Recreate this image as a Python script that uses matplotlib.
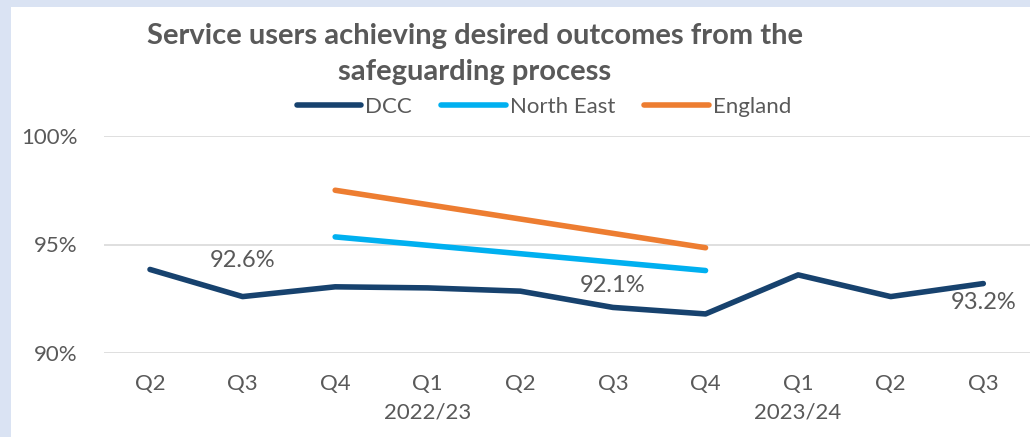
import matplotlib
matplotlib.use("Agg")
import matplotlib.pyplot as plt
from matplotlib.patches import Rectangle
import numpy as np

quarters = ["Q2", "Q3", "Q4", "Q1", "Q2", "Q3", "Q4", "Q1", "Q2", "Q3"]
years = {3: "2022/23", 7: "2023/24"}
dcc = [93.85, 92.6, 93.05, 93.0, 92.85, 92.1, 91.8, 93.6, 92.6, 93.2]
ne_idx = [2, 6]
north_east = [95.35, 93.8]
eng_idx = [2, 6]
england = [97.5, 94.85]
labels = {1: "92.6%", 5: "92.1%", 9: "93.2%"}

plt.rcParams['font.family'] = ['Lato', 'DejaVu Sans']
txt = '#595959'

fig = plt.figure(figsize=(10.30, 4.37), dpi=100)
fig.patch.set_facecolor('#DAE3F3')
fig.add_artist(Rectangle((11/1030, 0), 1, 1 - 7/437, transform=fig.transFigure,
                         facecolor='white', edgecolor='none', zorder=0))

ax = fig.add_axes([103.7/1030, 1 - 353/437, (1029.6 - 103.7)/1030, (353 - 136)/437])
ax.set_facecolor('none')
x = np.arange(len(quarters))
lw = 4.0
l1, = ax.plot(x, dcc, color='#17426E', lw=lw, solid_capstyle='round', solid_joinstyle='round', label='DCC', zorder=3)
l2, = ax.plot(ne_idx, north_east, color='#00B0F0', lw=lw, solid_capstyle='round', label='North East', zorder=3)
l3, = ax.plot(eng_idx, england, color='#ED7D31', lw=lw, solid_capstyle='round', label='England', zorder=3)

ax.set_xlim(-0.5, len(quarters) - 0.5)
ax.set_ylim(90, 100)
ax.set_yticks([90, 95, 100])
ax.set_yticklabels(["90%", "95%", "100%"])
ax.grid(axis='y', color='#D9D9D9', lw=1.2)
ax.set_axisbelow(True)
for s in ax.spines.values():
    s.set_visible(False)
ax.tick_params(length=0, labelsize=16, labelcolor=txt)
ax.tick_params(axis='y', pad=19)
ax.set_xticks(x)
ax.set_xticklabels(quarters)
ax.tick_params(axis='x', pad=15)
for i, y in years.items():
    ax.annotate(y, xy=(i, 0), xycoords=('data', 'axes fraction'), xytext=(0, -43),
                textcoords='offset points', ha='center', va='center', fontsize=16, color=txt)

offsets = {1: 26, 5: 16, 9: -13.5}
for i, s in labels.items():
    ax.annotate(s, xy=(i, dcc[i]), xytext=(0, offsets[i]), textcoords='offset points',
                ha='center', va='center', fontsize=17, color=txt)

fig.text(475/1030, 1 - 36/437, "Service users achieving desired outcomes from the",
         ha='center', va='center', fontsize=21, fontweight='bold', color=txt)
fig.text(475/1030, 1 - 72/437, "safeguarding process",
         ha='center', va='center', fontsize=21, fontweight='bold', color=txt)

leg = fig.legend(handles=[l1, l2, l3], loc='center', bbox_to_anchor=(544/1030, 1 - 107/437),
                 ncol=3, frameon=False, fontsize=16, handlelength=2.9, handletextpad=0.2,
                 columnspacing=1.3, labelcolor=txt, borderpad=0, borderaxespad=0)

fig.savefig('out.png', dpi=100, facecolor=fig.get_facecolor())
